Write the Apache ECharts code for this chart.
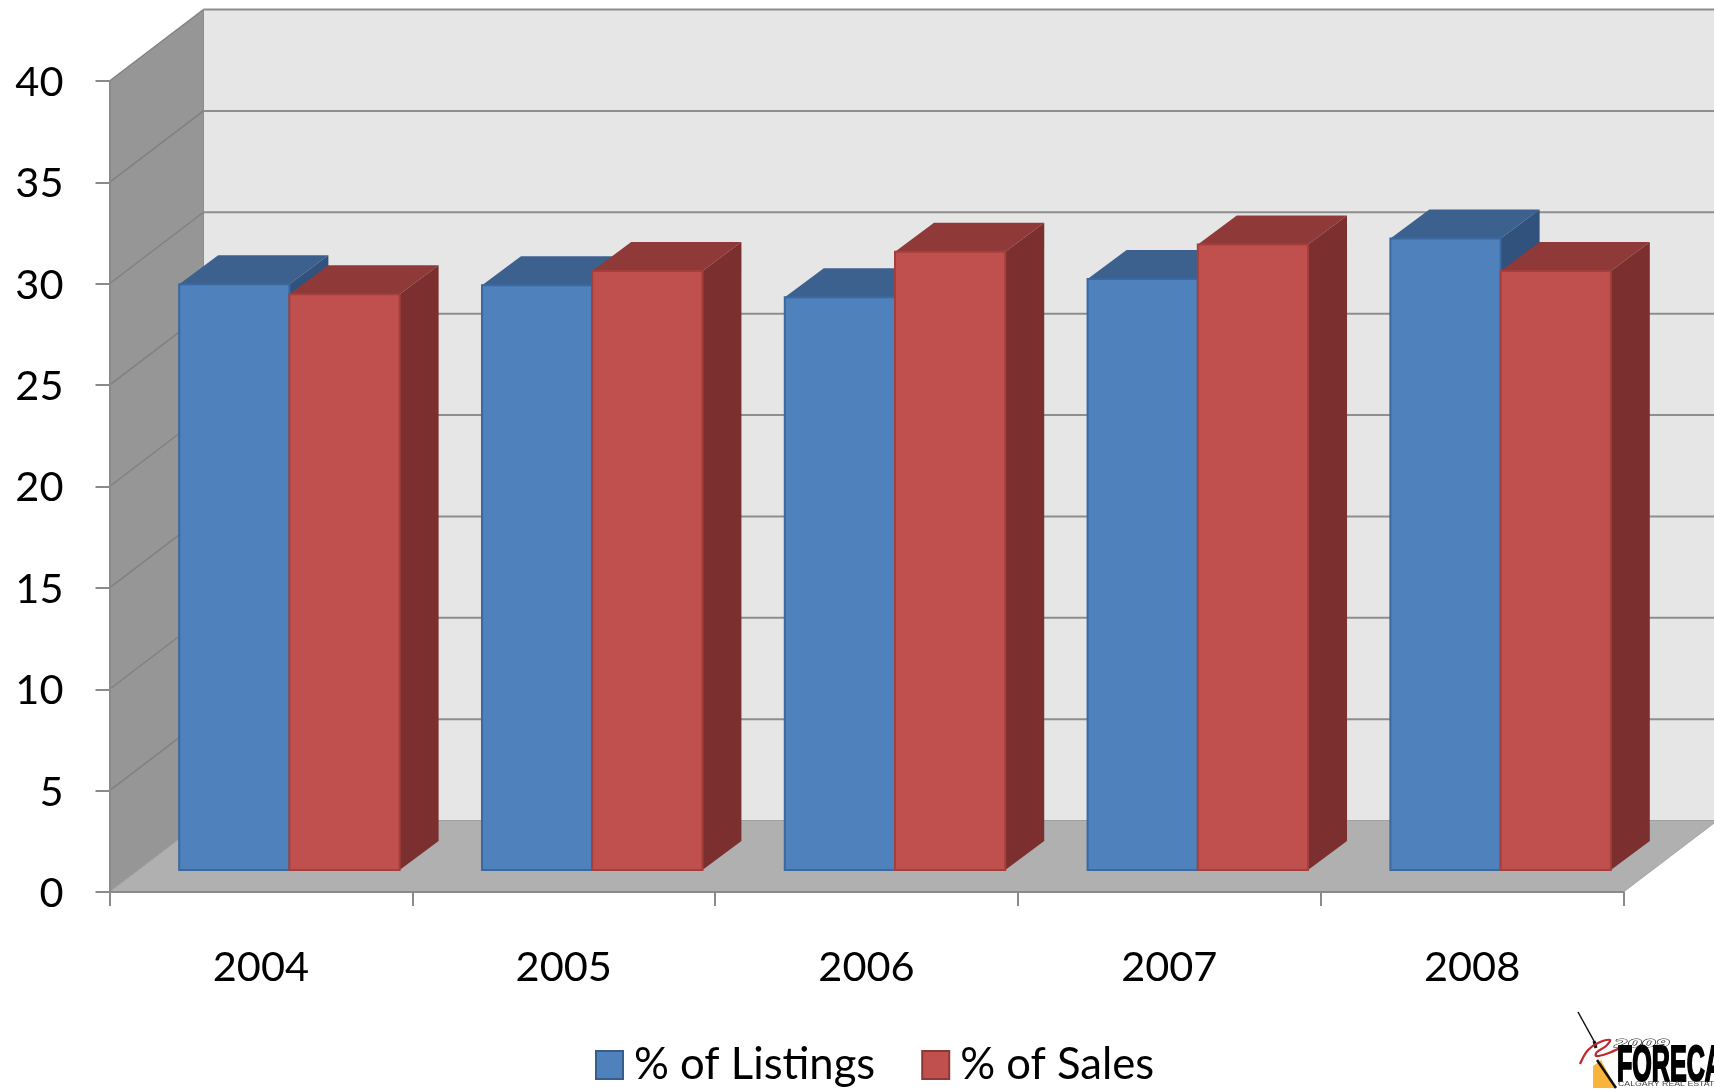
<!DOCTYPE html>
<html><head><meta charset="utf-8">
<style>html,body{margin:0;padding:0;background:#fff;overflow:hidden}#c{width:1714px;height:1089px;filter:blur(0.6px)}</style>
<script src="https://cdn.jsdelivr.net/npm/echarts@6/dist/echarts.min.js"></script>
</head><body><div id="c"></div>
<script>
var categories = ['2004','2005','2006','2007','2008'];
var listings = [28.9, 28.85, 28.25, 29.15, 31.15];
var sales = [28.4, 29.55, 30.5, 30.85, 29.55];
var yTicks = [0,5,10,15,20,25,30,35,40];

var WALL_DX = 94, WALL_DY = -71.5;     // depth of the 3D box
var BAR_SHIFT_X = 28.5, BAR_SHIFT_Y = -21.9; // bars sit inside the box
var BAR_DX = 39, BAR_DY = -29;
var BAR_RATIO = 0.364;

function poly(pts, fill, stroke, lw){
  return {type:'polygon', shape:{points:pts}, style:{fill:fill, stroke:stroke||null, lineWidth:lw||0}};
}
function line(x1,y1,x2,y2,col,lw){
  return {type:'line', shape:{x1:x1,y1:y1,x2:x2,y2:y2}, style:{stroke:col,lineWidth:lw}};
}
function wallItem(params, api){
  var g = params.coordSys, L=g.x, R=g.x+g.width, T=g.y, B=g.y+g.height;
  var dx=WALL_DX, dy=WALL_DY;
  var kids=[
    poly([[L+dx,T+dy],[R+dx,T+dy],[R+dx,B+dy],[L+dx,B+dy]],'#E6E6E6'),
    poly([[L,T],[L+dx,T+dy],[L+dx,B+dy],[L,B]],'#969696'),
    poly([[L,B],[L+dx,B+dy],[R+dx,B+dy],[R,B]],'#B0B0B0'),
    line(L+dx,T+dy,L+dx,B+dy,'#8C8C8C',1),
    line(L,B,L+dx,B+dy,'#9E9E9E',1),
    line(L+dx,B+dy,R+dx,B+dy,'#A0A0A0',1),
    line(R,B,R+dx,B+dy,'#A8A8A8',1)
  ];
  return {type:'group', children:kids};
}
function gridItem(params, api){
  var g = params.coordSys, L=g.x, R=g.x+g.width;
  var y = api.coord([0, api.value(0)])[1];
  if (api.value(0)===0) return {type:'group',children:[]};
  return {type:'group', children:[
    line(L,y,L+WALL_DX,y+WALL_DY,'#808080',1.4),
    line(L+WALL_DX,y+WALL_DY,R+WALL_DX,y+WALL_DY,'#8E8E8E',2)
  ]};
}
function barRender(offset, front, top, side, border){
  return function(params, api){
    var c0 = api.coord([api.value(0), 0]);
    var c1 = api.coord([api.value(0), api.value(1)]);
    var w = api.size([1,0])[0]*BAR_RATIO;
    var x0 = c0[0]+BAR_SHIFT_X+offset*w, x1 = x0+w;
    var yb = c0[1]+BAR_SHIFT_Y, yt = c1[1]+BAR_SHIFT_Y;
    return {type:'group', children:[
      poly([[x0,yt],[x1,yt],[x1+BAR_DX,yt+BAR_DY],[x0+BAR_DX,yt+BAR_DY]],top),
      poly([[x1,yt],[x1+BAR_DX,yt+BAR_DY],[x1+BAR_DX,yb+BAR_DY],[x1,yb]],side),
      poly([[x0,yt],[x1,yt],[x1,yb],[x0,yb]],front,border,2)
    ]};
  };
}
var FONT='Lato';
var chart = echarts.init(document.getElementById('c'),null,{renderer:'canvas'});
chart.setOption({
  animation:false,
  backgroundColor:'#fff',
  grid:{left:109.5, right:1714-1623.5, top:81, height:811, containLabel:false},
  xAxis:{type:'category',data:categories,
    axisLine:{show:true,onZero:false,lineStyle:{color:'#8A8A8A',width:2}},
    axisTick:{show:true,length:14,lineStyle:{color:'#8A8A8A',width:2}},
    axisLabel:{fontFamily:FONT,fontSize:41.5,color:'#000',margin:55},z:3},
  yAxis:{type:'value',min:0,max:40,interval:5,
    axisLine:{show:true,lineStyle:{color:'#8A8A8A',width:2}},
    axisTick:{show:true,length:14,lineStyle:{color:'#8A8A8A',width:2}},
    axisLabel:{fontFamily:FONT,fontSize:41.5,color:'#000',margin:46,
      formatter:'{a|{value}}',
      rich:{a:{fontFamily:FONT,fontSize:41.5,color:'#000',padding:[3,0,0,0]}},
      customValues:yTicks},
    splitLine:{show:false},z:3},
  legend:{left:590,top:1038,itemWidth:27,itemHeight:28,itemGap:46,
    textStyle:{fontFamily:FONT,fontSize:43.6,color:'#000',padding:[0,0,0,6]},
    data:[
      {name:'% of Listings',icon:'rect',itemStyle:{color:'#4F81BD',borderColor:'#385D8A',borderWidth:2}},
      {name:'% of Sales',icon:'rect',itemStyle:{color:'#C0504D',borderColor:'#8C3836',borderWidth:2}}
    ]},
  series:[
    {type:'custom',name:'walls',coordinateSystem:'cartesian2d',data:[[0,0]],renderItem:wallItem,silent:true,z:1,clip:false,encode:{x:0,y:1}},
    {type:'custom',name:'grid',coordinateSystem:'cartesian2d',data:yTicks.map(function(t){return [t];}),renderItem:gridItem,silent:true,z:2,clip:false,encode:{y:0}},
    {type:'custom',name:'% of Listings',coordinateSystem:'cartesian2d',z:4,clip:false,
      itemStyle:{color:'#4F81BD'},
      data:categories.map(function(c,i){return [i,listings[i]];}),encode:{x:0,y:1},
      renderItem:barRender(-1,'#4F81BD','#3C618F','#30527C','#3A689F')},
    {type:'custom',name:'% of Sales',coordinateSystem:'cartesian2d',z:5,clip:false,
      itemStyle:{color:'#C0504D'},
      data:categories.map(function(c,i){return [i,sales[i]];}),encode:{x:0,y:1},
      renderItem:barRender(0,'#C0504D','#8F3A38','#7B302F','#A33F3D')}
  ],
  graphic:[
    // Logo, bottom right, cut by the page edge
    {type:'polygon',z:20,shape:{points:[[1593,1066],[1601,1060],[1616,1088],[1593,1088]]},style:{fill:'#F9B43C'}},
    {type:'polyline',z:21,shape:{points:[[1578,1012],[1594,1041]]},style:{stroke:'#111',lineWidth:1.5,fill:null}},
    {type:'polyline',z:21,shape:{points:[[1594,1041],[1596,1048]]},style:{stroke:'#111',lineWidth:3,fill:null}},
    {type:'polyline',z:21,shape:{points:[[1597,1060],[1616,1088]]},style:{stroke:'#111',lineWidth:2.5,fill:null}},
    {type:'polyline',z:22,shape:{points:[[1580,1064],[1588,1050],[1598,1043],[1610,1040],[1606,1046],[1597,1052],[1596,1056],[1606,1054],[1622,1047]],smooth:0.4},style:{stroke:'#C0272D',lineWidth:2.2,fill:null}},
    {type:'text',z:22,x:1614,y:1039,style:{text:'2009',fontFamily:'DejaVu Sans',fontStyle:'italic',fontWeight:'bold',fontSize:13,fill:'#fff',stroke:'#111',lineWidth:1},scaleX:1.55,scaleY:0.85},
    {type:'text',z:22,x:1617,y:1043,scaleX:0.57,scaleY:1.12,style:{text:'FORECAST',fontFamily:'Liberation Sans',fontWeight:'bold',fontSize:44,fill:'#000',stroke:'#000',lineWidth:2}},
    {type:'text',z:22,x:1618,y:1081,style:{text:'CALGARY REAL ESTATE',fontFamily:'Liberation Sans',fontSize:7,fill:'#444'},scaleX:1.25}
  ]
});
</script></body></html>
